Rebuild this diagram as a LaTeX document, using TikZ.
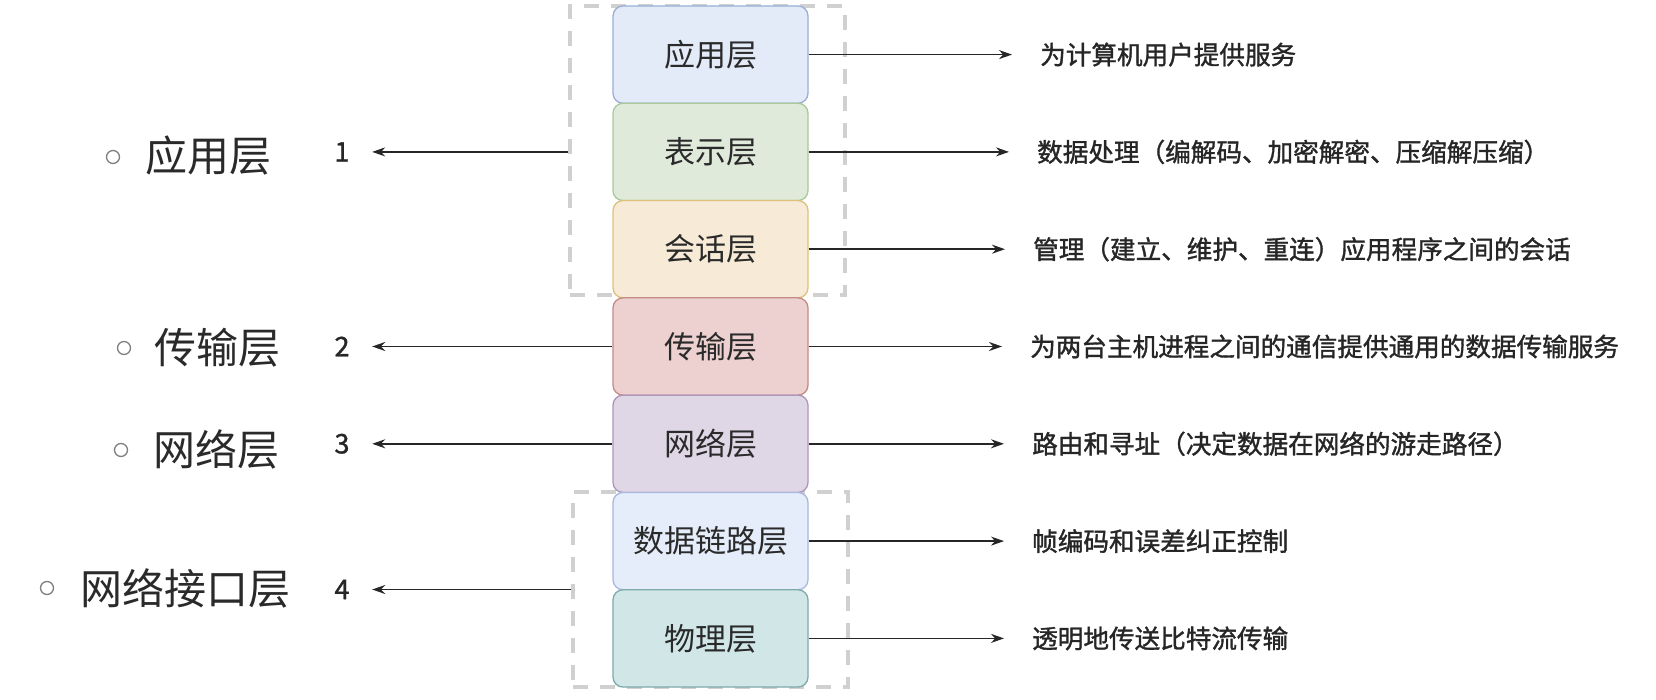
\documentclass[tikz,border=0pt]{standalone}
\usepackage{fontspec}
\setmainfont{Noto Sans CJK SC}
\newfontfamily\descfont[FakeBold=1.3]{Noto Sans CJK SC}
\usetikzlibrary{arrows.meta}
\definecolor{txt}{HTML}{2A2A2A}
\definecolor{f1}{HTML}{E3EBF9}\definecolor{s1}{HTML}{9AAED6}
\definecolor{f2}{HTML}{DFEADB}\definecolor{s2}{HTML}{A9C99A}
\definecolor{f3}{HTML}{F7EAD7}\definecolor{s3}{HTML}{DCC27A}
\definecolor{f4}{HTML}{EDD1D0}\definecolor{s4}{HTML}{C48A87}
\definecolor{f5}{HTML}{E0D7E6}\definecolor{s5}{HTML}{AD95BD}
\definecolor{f6}{HTML}{E6EDFA}\definecolor{s6}{HTML}{A6B8DC}
\definecolor{f7}{HTML}{D1E7E7}\definecolor{s7}{HTML}{7FAAAA}
\tikzset{
  layer/.style={draw, rounded corners=10pt, line width=1.3pt, minimum width=195pt,
    minimum height=97.3pt, inner sep=0pt, text=txt, font=\fontsize{31pt}{31pt}\selectfont},
  grp/.style={draw={rgb,255:red,208;green,208;blue,208}, line width=3.5pt, dash pattern=on 15pt off 12pt,
    minimum width=275pt, inner sep=0pt},
  arr/.style={-{Stealth[length=13pt,width=9pt]}, line width=1.6pt, color=black!85},
  num/.style={minimum width=60pt, inner sep=0pt, text=black!85, font=\descfont\fontsize{27pt}{27pt}\selectfont},
  desc/.style={anchor=west, inner xsep=28pt, inner ysep=0pt, text=black!85, font=\descfont\fontsize{25.6pt}{25.6pt}\selectfont},
  big/.style={anchor=west, inner sep=0pt, text=txt, font=\fontsize{42pt}{42pt}\selectfont},
  bul/.style={circle, draw=gray, line width=1.3pt, minimum size=13pt, inner sep=0pt}
}
\begin{document}
\begin{tikzpicture}[x=1pt,y=-1pt]
\useasboundingbox[fill=white] (0,0) rectangle (1656,700);
% groups
\node[grp, minimum height=289pt] (g1) at (707.5,150.5) {};
\node[grp, minimum height=195pt] (g2) at (710.5,589.5) {};
% layers
\node[layer, fill=f1, draw=s1] (b1) at (710.5,54.6) {应用层};
\node[layer, fill=f2, draw=s2] (b2) at (710.5,151.9) {表示层};
\node[layer, fill=f3, draw=s3] (b3) at (710.5,249.2) {会话层};
\node[layer, fill=f4, draw=s4] (b4) at (710.5,346.5) {传输层};
\node[layer, fill=f5, draw=s5] (b5) at (710.5,443.8) {网络层};
\node[layer, fill=f6, draw=s6] (b6) at (710.5,541.1) {数据链路层};
\node[layer, fill=f7, draw=s7] (b7) at (710.5,638.4) {物理层};
% descriptions
\node[desc] (d1) at (1012,54.6) {为计算机用户提供服务};
\node[desc] (d2) at (1009,151.9) {数据处理（编解码、加密解密、压缩解压缩）};
\node[desc] (d3) at (1005,249.2) {管理（建立、维护、重连）应用程序之间的会话};
\node[desc] (d4) at (1002,346.5) {为两台主机进程之间的通信提供通用的数据传输服务};
\node[desc] (d5) at (1004,443.8) {路由和寻址（决定数据在网络的游走路径）};
\node[desc] (d6) at (1004,541.1) {帧编码和误差纠正控制};
\node[desc] (d7) at (1004,638.4) {透明地传送比特流传输};
\foreach \i in {1,...,7} { \draw[arr] (b\i.east) -- (d\i.west); }
% numbers
\node[num] (n1) at (342,151.9) {1};
\node[num] (n2) at (342,346.5) {2};
\node[num] (n3) at (342,443.8) {3};
\node[num] (n4) at (342,589.5) {4};
\draw[arr] (g1.west |- n1) -- (n1.east);
\draw[arr] (b4.west) -- (n2.east);
\draw[arr] (b5.west) -- (n3.east);
\draw[arr] (g2.west |- n4) -- (n4.east);
% left labels
\node[bul] (c1) at (113,157) {};
\node[big] (l1) at (145,156) {应用层};
\node[bul] (c2) at (124,348) {};
\node[big] (l2) at (154,348) {传输层};
\node[bul] (c3) at (121,450) {};
\node[big] (l3) at (153,449) {网络层};
\node[bul] (c4) at (47,588) {};
\node[big] (l4) at (80,588) {网络接口层};
\end{tikzpicture}
\end{document}
